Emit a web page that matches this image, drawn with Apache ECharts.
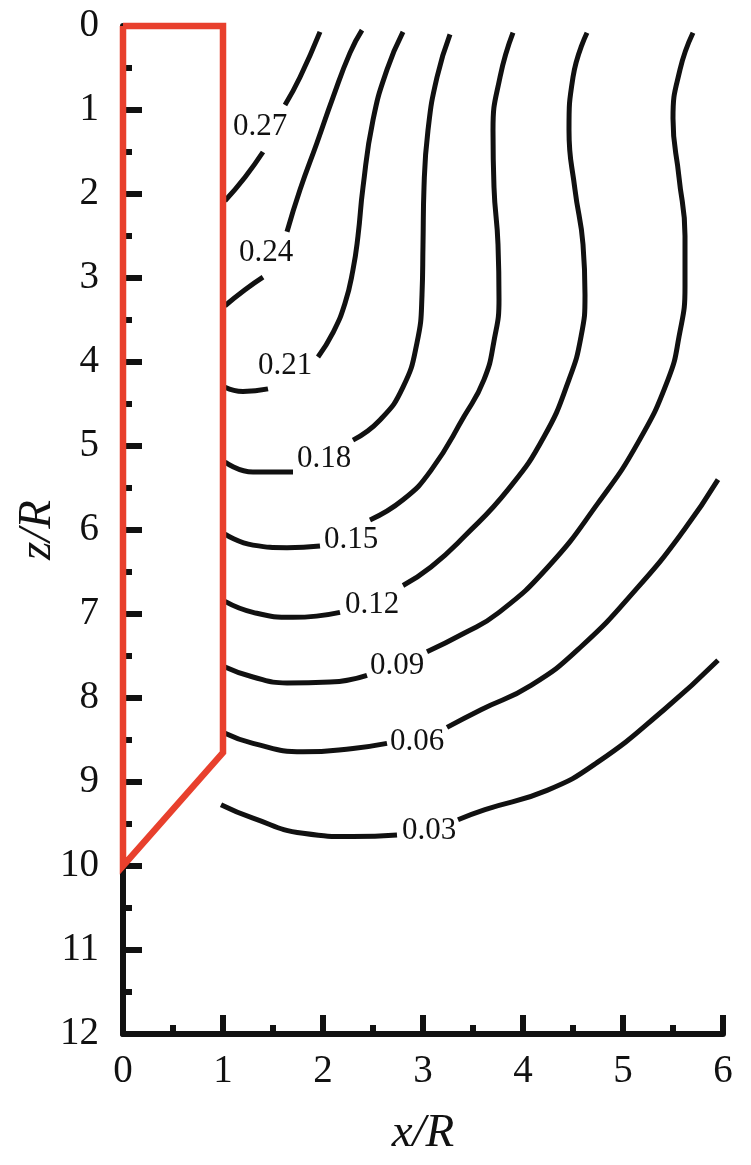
<!DOCTYPE html>
<html>
<head>
<meta charset="utf-8">
<script src="https://cdn.jsdelivr.net/npm/echarts@6/dist/echarts.min.js"></script>
<style>
html,body{margin:0;padding:0;background:#fff;}
#chart{width:751px;height:1165px;}
</style>
</head>
<body>
<div id="chart"></div>
<script>
// Axis ticks
var xTicks = [0, 1, 2, 3, 4, 5, 6];
var zTicks = [0, 1, 2, 3, 4, 5, 6, 7, 8, 9, 10, 11, 12];

// Pile outline (x/R, z/R)
var pileOutline = [[0, 0], [1, 0], [1, 8.65], [0, 10], [0, 0]];

// Contour levels and their traced segments (x/R, z/R); gaps are where labels sit
var levels = ['0.27', '0.24', '0.21', '0.18', '0.15', '0.12', '0.09', '0.06', '0.03'];

var c027 = [
  [[1.02, 2.08], [1.22, 1.80], [1.40, 1.50]],
  [[1.62, 0.94], [1.77, 0.61], [1.97, 0.07]]
];
var c024 = [
  [[1.02, 3.33], [1.22, 3.14], [1.40, 2.99]],
  [[1.64, 2.45], [1.77, 1.95], [1.94, 1.39], [2.10, 0.85], [2.27, 0.32], [2.39, 0.05]]
];
var c021 = [
  [[1.02, 4.30], [1.20, 4.35], [1.45, 4.32]],
  [[1.95, 3.94], [2.10, 3.65], [2.22, 3.30], [2.30, 2.90], [2.35, 2.50], [2.40, 1.92], [2.50, 1.12], [2.64, 0.52], [2.80, 0.07]]
];
var c018 = [
  [[1.02, 5.19], [1.30, 5.31], [1.70, 5.31]],
  [[2.30, 4.93], [2.57, 4.69], [2.80, 4.30], [2.94, 3.77], [2.99, 3.20], [3.00, 2.60], [3.01, 1.92], [3.05, 1.24], [3.14, 0.61], [3.27, 0.10]]
];
var c015 = [
  [[1.02, 6.05], [1.30, 6.18], [1.64, 6.21], [1.97, 6.19]],
  [[2.47, 5.88], [2.80, 5.64], [3.08, 5.29], [3.41, 4.65], [3.61, 4.21], [3.71, 3.75], [3.76, 3.25], [3.75, 2.60], [3.71, 1.92], [3.70, 1.24], [3.77, 0.61], [3.90, 0.08]]
];
var c012 = [
  [[1.02, 6.85], [1.30, 6.98], [1.70, 7.04], [2.17, 6.98]],
  [[2.80, 6.66], [3.08, 6.44], [3.41, 6.08], [3.85, 5.52], [4.21, 4.89], [4.46, 4.21], [4.58, 3.70], [4.62, 3.20], [4.60, 2.60], [4.52, 1.95], [4.46, 1.24], [4.50, 0.61], [4.64, 0.08]]
];
var c009 = [
  [[1.02, 7.63], [1.30, 7.75], [1.64, 7.82], [2.07, 7.81], [2.44, 7.73]],
  [[3.04, 7.45], [3.41, 7.23], [3.75, 6.99], [4.25, 6.44], [4.75, 5.68], [5.15, 4.96], [5.45, 4.21], [5.56, 3.70], [5.62, 3.10], [5.62, 2.50], [5.56, 1.80], [5.50, 1.10], [5.57, 0.52], [5.70, 0.08]]
];
var c006 = [
  [[1.02, 8.42], [1.30, 8.54], [1.80, 8.64], [2.30, 8.60], [2.64, 8.54]],
  [[3.24, 8.35], [3.58, 8.14], [4.08, 7.85], [4.58, 7.39], [5.15, 6.68], [5.61, 6.00], [5.95, 5.40]]
];
var c003 = [
  [[0.98, 9.27], [1.30, 9.43], [1.80, 9.61], [2.30, 9.65], [2.74, 9.63]],
  [[3.35, 9.45], [3.62, 9.33], [4.24, 9.10], [4.74, 8.77], [5.41, 8.14], [5.95, 7.55]]
];
var contours = [c027, c024, c021, c018, c015, c012, c009, c006, c003];

// Contour label anchor positions (x/R, z/R)
var labelX = [1.37, 1.43, 1.62, 2.01, 2.28, 2.49, 2.74, 2.94, 3.06];
var labelZ = [1.20, 2.70, 4.05, 5.15, 6.12, 6.89, 7.62, 8.52, 9.58];

var serif = "'Liberation Serif', 'DejaVu Serif', serif";

var series = [];
contours.forEach(function (segs) {
  segs.forEach(function (seg) {
    series.push({
      type: 'line',
      data: seg,
      smooth: 0.5,
      symbol: 'none',
      clip: false,
      lineStyle: { color: '#111', width: 5 },
      z: 3,
      silent: true
    });
  });
});

series.push({
  type: 'line',
  data: pileOutline,
  symbol: 'none',
  clip: false,
  lineStyle: { color: '#e8402d', width: 6.5, join: 'miter' },
  z: 5,
  silent: true
});

series.push({
  type: 'scatter',
  data: levels.map(function (t, i) { return [labelX[i], labelZ[i], t]; }),
  symbolSize: 0,
  z: 6,
  silent: true,
  itemStyle: { color: '#111', opacity: 1 },
  label: {
    show: true,
    position: 'inside',
    formatter: function (p) { return p.value[2]; },
    fontFamily: serif,
    fontSize: 31,
    color: '#111',
    opacity: 1,
    textBorderWidth: 0,
    textBorderColor: 'transparent'
  }
});

var axisCommon = {
  type: 'value',
  interval: 1,
  splitLine: { show: false },
  nameMoveOverlap: false,
  axisLine: { show: true, onZero: false, lineStyle: { color: '#111', width: 6 } },
  axisTick: { show: true, inside: true, length: 19, lineStyle: { color: '#111', width: 6 } },
  minorTick: { show: true, splitNumber: 2, length: 9, lineStyle: { color: '#111', width: 6 } },
  minorSplitLine: { show: false }
};

var option = {
  animation: false,
  backgroundColor: '#fff',
  grid: { left: 123, top: 26, right: 28, bottom: 131, containLabel: false, outerBoundsMode: 'none' },
  xAxis: Object.assign({}, axisCommon, {
    min: xTicks[0],
    max: xTicks[xTicks.length - 1],
    position: 'bottom',
    name: 'x/R',
    nameLocation: 'middle',
    nameGap: 76,
    nameTextStyle: { fontFamily: serif, fontStyle: 'italic', fontSize: 47, color: '#111' },
    axisLabel: { fontFamily: serif, fontSize: 39, color: '#111', margin: 18 }
  }),
  yAxis: Object.assign({}, axisCommon, {
    min: zTicks[0],
    max: zTicks[zTicks.length - 1],
    inverse: true,
    position: 'left',
    name: 'z/R',
    nameLocation: 'middle',
    nameRotate: 90,
    nameGap: 62,
    nameTextStyle: { fontFamily: serif, fontStyle: 'italic', fontSize: 47, color: '#111' },
    axisLabel: { fontFamily: serif, fontSize: 39, color: '#111', margin: 24, padding: [0, 0, 12, 0] }
  }),
  series: series
};

var chart = echarts.init(document.getElementById('chart'), null, { renderer: 'canvas' });
chart.setOption(option);
</script>
</body>
</html>
